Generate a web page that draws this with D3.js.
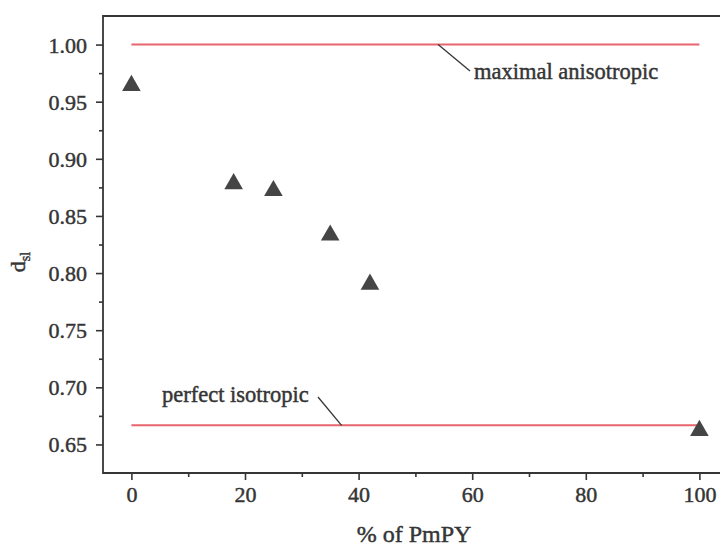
<!DOCTYPE html>
<html><head><meta charset="utf-8">
<script src="https://cdn.jsdelivr.net/npm/d3@7"></script>
<style>body{margin:0;background:#fff}svg{display:block}svg text{font-family:'Liberation Serif','Times New Roman',serif}</style>
</head><body>
<svg id="c" width="720" height="551"></svg>
<script>
const pmpy = [0, 18, 25, 35, 42, 100];
const dsl = [0.965, 0.879, 0.873, 0.834, 0.791, 0.663];
const refLevels = [1.0, 0.6667];
const refLabels = ["maximal anisotropic", "perfect isotropic"];
const xTicks = [0, 20, 40, 60, 80, 100];
const yTicks = [0.65, 0.70, 0.75, 0.80, 0.85, 0.90, 0.95, 1.00];

const svg = d3.select("#c");
const L = 103, T = 16, B = 473;
const x = d3.scaleLinear().domain([-5, 105]).range([L, L + 110 * 5.68]);
const y = d3.scaleLinear().domain([0.625, 1.025]).range([B, T]);
const font = "'Liberation Serif', 'Times New Roman', serif";
const ink = "#353535";
const sw = 0.45;

// reference lines
svg.selectAll("line.ref").data(refLevels).join("line")
  .attr("x1", x(0)).attr("x2", x(100))
  .attr("y1", d => y(d)).attr("y2", d => y(d))
  .attr("stroke", "#e8646e").attr("stroke-width", 2);

// axes
const xAxis = d3.axisBottom(x).tickValues(d3.range(0, 101, 10)).tickSize(7)
  .tickFormat(d => xTicks.includes(d) ? d : "");
const gx = svg.append("g").attr("transform", `translate(0,${B})`).call(xAxis);
const yAxis = d3.axisLeft(y).tickValues(d3.range(0, 15).map(i => 0.65 + i * 0.025).filter(v => v <= 1.0201))
  .tickSize(7).tickFormat(d => yTicks.some(t => Math.abs(t - d) < 1e-6) ? d3.format(".2f")(d) : "");
const gy = svg.append("g").attr("transform", `translate(${L},0)`).call(yAxis);
[gx, gy].forEach(g => {
  g.attr("font-family", null);
  g.select(".domain").remove();
  g.selectAll("line").attr("stroke", ink).attr("stroke-width", 1.6);
  g.selectAll("text").attr("fill", ink).style("font-family", font).attr("font-size", 22)
    .attr("stroke", ink).attr("stroke-width", sw);
});
// minor ticks shorter
gx.selectAll(".tick").filter(d => !xTicks.includes(d)).select("line").attr("y2", 4);
gy.selectAll(".tick").filter(d => !yTicks.some(t => Math.abs(t - d) < 1e-6)).select("line").attr("x2", -4);
gx.selectAll("text").attr("y", 13).attr("dy", "0.71em");
gy.selectAll("text").attr("x", -16).attr("dy", "0.34em");

// frame
svg.append("path").attr("d", `M${x(105)},${T}H${L}V${B}H${x(105)}`)
  .attr("fill", "none").attr("stroke", ink).attr("stroke-width", 1.8);

// points
svg.selectAll("path.pt").data(pmpy).join("path")
  .attr("d", d3.symbol(d3.symbolTriangle, 150))
  .attr("transform", (d, i) => `translate(${x(d)},${y(dsl[i]) + 1})`)
  .attr("fill", "#454545");

// annotations
svg.append("line").attr("x1", x(54)).attr("y1", y(1.0)).attr("x2", 470).attr("y2", 71)
  .attr("stroke", ink).attr("stroke-width", 1.3);
svg.append("text").attr("x", 474).attr("y", 79).text(refLabels[0])
  .style("font-family", font).attr("font-size", 22.5).attr("fill", ink).attr("stroke", ink).attr("stroke-width", sw);
svg.append("line").attr("x1", 318).attr("y1", 397).attr("x2", x(37)).attr("y2", y(0.6667))
  .attr("stroke", ink).attr("stroke-width", 1.3);
svg.append("text").attr("x", 162).attr("y", 402).text(refLabels[1])
  .style("font-family", font).attr("font-size", 22.5).attr("fill", ink).attr("stroke", ink).attr("stroke-width", sw);

// axis titles
svg.append("text").attr("x", 414).attr("y", 542).attr("text-anchor", "middle")
  .style("font-family", font).attr("font-size", 24).attr("fill", ink).attr("stroke", ink).attr("stroke-width", sw).text("% of PmPY");
const yt = svg.append("text").attr("transform", "translate(25,262) rotate(-90)")
  .attr("text-anchor", "middle").style("font-family", font).attr("font-size", 22).attr("fill", ink)
  .attr("stroke", ink).attr("stroke-width", sw);
yt.append("tspan").text("d");
yt.append("tspan").attr("font-size", 14).attr("dy", 5).text("sl");
</script>
</body></html>
